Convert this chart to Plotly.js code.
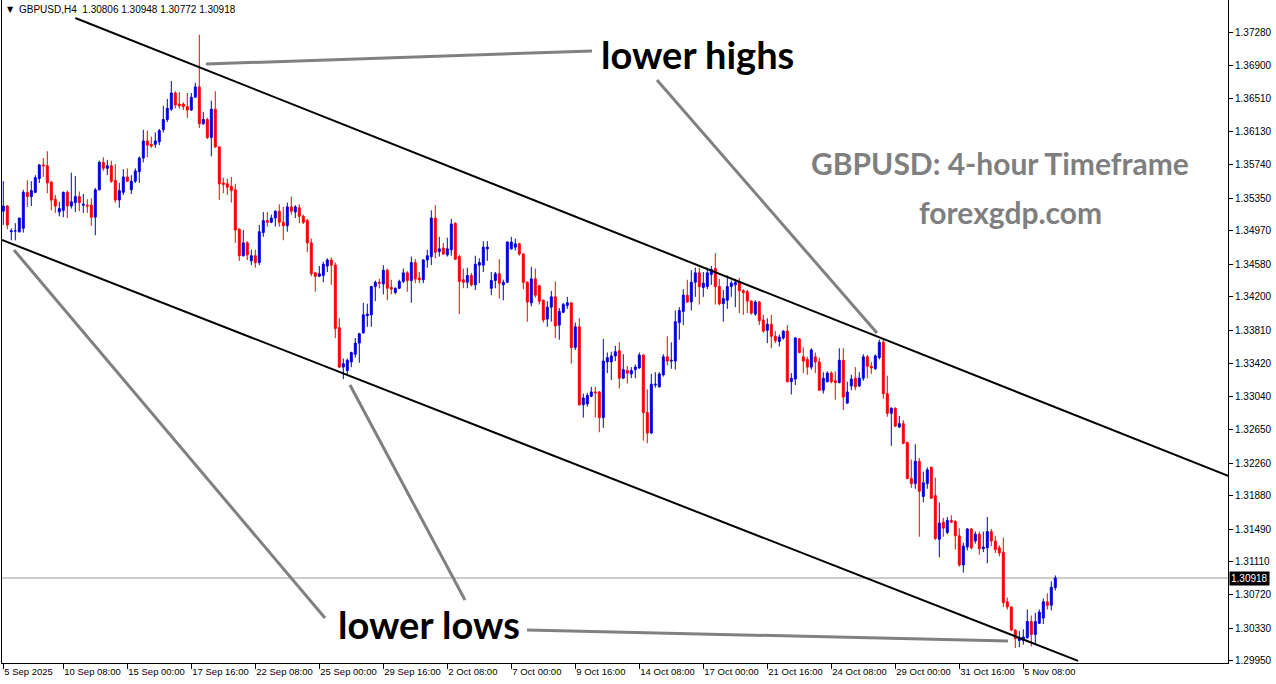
<!DOCTYPE html>
<html>
<head>
<meta charset="utf-8">
<script src="https://cdn.plot.ly/plotly-3.0.1.min.js"></script>
<style>
html,body{margin:0;padding:0;background:#fff;}
#chart{width:1276px;height:684px;}
</style>
</head>
<body>
<div id="chart"></div>
<script>
// GBPUSD H4 candles, index 0 = first visible bar
const OPEN = [
1.3520,1.3526,1.3496,1.3497,1.3496,1.3500,1.3542,1.3537,1.3542,1.3558,
1.3574,1.3573,1.3554,1.3534,1.3519,1.3521,1.3542,1.3526,1.3530,1.3537,
1.3527,1.3527,1.3527,1.3513,1.3545,1.3577,1.3570,1.3573,1.3556,1.3533,
1.3542,1.3560,1.3545,1.3555,1.3566,1.3582,1.3602,1.3598,1.3598,1.3601,
1.3615,1.3627,1.3639,1.3658,1.3645,1.3645,1.3642,1.3638,1.3653,1.3665,
1.3622,1.3627,1.3606,1.3639,1.3595,1.3553,1.3552,1.3549,1.3545,1.3499,
1.3468,1.3483,1.3462,1.3468,1.3460,1.3495,1.3509,1.3507,1.3512,1.3520,
1.3507,1.3503,1.3525,1.3519,1.3524,1.3514,1.3509,1.3483,1.3448,1.3444,
1.3445,1.3456,1.3463,1.3457,1.3384,1.3338,1.3334,1.3344,1.3353,1.3366,
1.3378,1.3398,1.3399,1.3432,1.3437,1.3435,1.3451,1.3431,1.3425,1.3430,
1.3438,1.3448,1.3439,1.3460,1.3442,1.3440,1.3463,1.3467,1.3512,1.3473,
1.3477,1.3469,1.3475,1.3506,1.3467,1.3440,1.3437,1.3445,1.3434,1.3457,
1.3457,1.3476,1.3430,1.3439,1.3447,1.3434,1.3437,1.3476,1.3478,1.3482,
1.3470,1.3437,1.3413,1.3441,1.3433,1.3416,1.3394,1.3408,1.3420,1.3387,
1.3402,1.3410,1.3413,1.3361,1.3385,1.3294,1.3295,1.3304,1.3309,1.3309,
1.3279,1.3344,1.3344,1.3351,1.3357,1.3325,1.3334,1.3330,1.3335,1.3337,
1.3352,1.3285,1.3261,1.3317,1.3315,1.3329,1.3350,1.3345,1.3345,1.3390,
1.3403,1.3422,1.3414,1.3437,1.3448,1.3431,1.3432,1.3446,1.3453,1.3432,
1.3412,1.3416,1.3432,1.3434,1.3437,1.3427,1.3426,1.3415,1.3400,1.3414,
1.3393,1.3381,1.3388,1.3374,1.3368,1.3372,1.3380,1.3321,1.3324,1.3371,
1.3350,1.3347,1.3338,1.3350,1.3344,1.3311,1.3321,1.3331,1.3322,1.3320,
1.3346,1.3296,1.3316,1.3325,1.3316,1.3325,1.3350,1.3339,1.3336,1.3349,
1.3367,1.3307,1.3284,1.3290,1.3268,1.3272,1.3250,1.3208,1.3202,1.3228,
1.3187,1.3202,1.3221,1.3188,1.3137,1.3157,1.3145,1.3159,1.3158,1.3141,
1.3107,1.3128,1.3149,1.3135,1.3143,1.3126,1.3127,1.3146,1.3135,1.3127,
1.3122,1.3064,1.3058,1.3031,1.3019,1.3019,1.3022,1.3041,1.3026,1.3039,
1.3045,1.3064,1.3060,1.30806];
const HIGH = [
1.3555,1.3527,1.3500,1.3506,1.3512,1.3545,1.3556,1.3555,1.3562,1.3575,
1.3582,1.3590,1.3555,1.3539,1.3531,1.3543,1.3544,1.3565,1.3561,1.3543,
1.3540,1.3534,1.3535,1.3547,1.3579,1.3583,1.3580,1.3579,1.3575,1.3553,
1.3569,1.3570,1.3562,1.3570,1.3584,1.3615,1.3614,1.3607,1.3612,1.3616,
1.3643,1.3651,1.3672,1.3660,1.3659,1.3647,1.3658,1.3658,1.3670,1.3726,
1.3636,1.3629,1.3649,1.3660,1.3596,1.3559,1.3558,1.3560,1.3552,1.3500,
1.3498,1.3485,1.3475,1.3475,1.3504,1.3519,1.3519,1.3516,1.3521,1.3528,
1.3525,1.3530,1.3537,1.3527,1.3528,1.3516,1.3511,1.3488,1.3449,1.3456,
1.3461,1.3465,1.3466,1.3460,1.3395,1.3348,1.3348,1.3356,1.3372,1.3378,
1.3413,1.3412,1.3433,1.3439,1.3441,1.3457,1.3453,1.3440,1.3431,1.3440,
1.3453,1.3450,1.3467,1.3464,1.3449,1.3464,1.3475,1.3521,1.3527,1.3490,
1.3483,1.3489,1.3511,1.3507,1.3469,1.3453,1.3454,1.3448,1.3468,1.3465,
1.3485,1.3485,1.3449,1.3449,1.3464,1.3440,1.3485,1.3490,1.3488,1.3483,
1.3471,1.3438,1.3455,1.3453,1.3434,1.3417,1.3415,1.3427,1.3438,1.3407,
1.3413,1.3420,1.3414,1.3390,1.3395,1.3307,1.3308,1.3315,1.3315,1.3310,
1.3371,1.3355,1.3356,1.3363,1.3367,1.3353,1.3339,1.3338,1.3341,1.3355,
1.3353,1.3312,1.3330,1.3332,1.3332,1.3353,1.3374,1.3367,1.3404,1.3408,
1.3429,1.3440,1.3451,1.3454,1.3454,1.3449,1.3454,1.3456,1.3471,1.3441,
1.3428,1.3445,1.3439,1.3441,1.3442,1.3429,1.3428,1.3416,1.3416,1.3415,
1.3399,1.3395,1.3399,1.3380,1.3376,1.3381,1.3387,1.3331,1.3373,1.3372,
1.3361,1.3350,1.3360,1.3355,1.3349,1.3332,1.3333,1.3333,1.3333,1.3360,
1.3360,1.3321,1.3329,1.3338,1.3332,1.3353,1.3352,1.3344,1.3353,1.3370,
1.3371,1.3328,1.3291,1.3291,1.3281,1.3276,1.3251,1.3230,1.3248,1.3232,
1.3216,1.3221,1.3222,1.3209,1.3180,1.3162,1.3163,1.3165,1.3159,1.3150,
1.3133,1.3150,1.3150,1.3146,1.3146,1.3146,1.3163,1.3149,1.3141,1.3130,
1.3139,1.3069,1.3059,1.3032,1.3030,1.3032,1.3055,1.3048,1.3051,1.3055,
1.3068,1.3074,1.3088,1.30948];
const LOW = [
1.3504,1.3499,1.3486,1.3486,1.3495,1.3495,1.3525,1.3526,1.3541,1.3553,
1.3560,1.3541,1.3521,1.3518,1.3514,1.3513,1.3512,1.3523,1.3519,1.3520,
1.3518,1.3518,1.3503,1.3492,1.3544,1.3567,1.3562,1.3553,1.3530,1.3524,
1.3539,1.3554,1.3540,1.3553,1.3553,1.3577,1.3583,1.3594,1.3594,1.3597,
1.3612,1.3624,1.3637,1.3640,1.3640,1.3638,1.3629,1.3637,1.3652,1.3617,
1.3621,1.3604,1.3584,1.3594,1.3533,1.3541,1.3539,1.3530,1.3483,1.3462,
1.3467,1.3463,1.3457,1.3454,1.3457,1.3490,1.3502,1.3506,1.3502,1.3502,
1.3486,1.3496,1.3516,1.3512,1.3506,1.3505,1.3472,1.3444,1.3426,1.3443,
1.3437,1.3449,1.3434,1.3372,1.3337,1.3324,1.3329,1.3338,1.3349,1.3343,
1.3377,1.3385,1.3385,1.3415,1.3430,1.3423,1.3416,1.3423,1.3423,1.3429,
1.3436,1.3426,1.3413,1.3436,1.3436,1.3436,1.3454,1.3457,1.3465,1.3467,
1.3469,1.3467,1.3468,1.3463,1.3400,1.3430,1.3430,1.3432,1.3428,1.3436,
1.3449,1.3462,1.3422,1.3430,1.3418,1.3416,1.3436,1.3475,1.3474,1.3468,
1.3429,1.3391,1.3409,1.3419,1.3411,1.3390,1.3385,1.3391,1.3372,1.3370,
1.3401,1.3406,1.3342,1.3358,1.3293,1.3279,1.3292,1.3303,1.3279,1.3262,
1.3267,1.3331,1.3323,1.3345,1.3313,1.3324,1.3319,1.3325,1.3325,1.3336,
1.3252,1.3249,1.3260,1.3314,1.3314,1.3327,1.3340,1.3336,1.3335,1.3370,
1.3387,1.3413,1.3404,1.3420,1.3411,1.3420,1.3429,1.3434,1.3411,1.3410,
1.3391,1.3406,1.3420,1.3408,1.3401,1.3399,1.3401,1.3399,1.3398,1.3387,
1.3378,1.3366,1.3360,1.3366,1.3362,1.3370,1.3320,1.3306,1.3317,1.3354,
1.3331,1.3329,1.3335,1.3331,1.3310,1.3307,1.3320,1.3319,1.3300,1.3319,
1.3288,1.3295,1.3311,1.3311,1.3315,1.3322,1.3325,1.3330,1.3335,1.3347,
1.3301,1.3280,1.3246,1.3268,1.3267,1.3248,1.3207,1.3197,1.3196,1.3140,
1.3180,1.3196,1.3184,1.3136,1.3116,1.3140,1.3143,1.3156,1.3125,1.3105,
1.3098,1.3124,1.3125,1.3132,1.3119,1.3122,1.3109,1.3129,1.3121,1.3117,
1.3058,1.3055,1.3030,1.3010,1.3011,1.3014,1.3021,1.3012,1.3014,1.3038,
1.3038,1.3055,1.3054,1.30772];
const CLOSE = [
1.3526,1.3504,1.3497,1.3497,1.3512,1.3542,1.3537,1.3544,1.3559,1.3574,
1.3573,1.3553,1.3533,1.3526,1.3523,1.3542,1.3526,1.3531,1.3537,1.3530,
1.3528,1.3526,1.3513,1.3545,1.3577,1.3570,1.3573,1.3555,1.3533,1.3544,
1.3560,1.3555,1.3555,1.3567,1.3582,1.3602,1.3597,1.3596,1.3602,1.3614,
1.3627,1.3640,1.3658,1.3644,1.3643,1.3642,1.3638,1.3653,1.3665,1.3622,
1.3627,1.3606,1.3639,1.3595,1.3552,1.3551,1.3548,1.3544,1.3498,1.3468,
1.3483,1.3469,1.3468,1.3460,1.3496,1.3509,1.3507,1.3512,1.3520,1.3507,
1.3503,1.3525,1.3520,1.3525,1.3514,1.3507,1.3483,1.3447,1.3444,1.3447,
1.3458,1.3463,1.3457,1.3383,1.3338,1.3342,1.3346,1.3355,1.3366,1.3377,
1.3399,1.3400,1.3432,1.3437,1.3436,1.3451,1.3430,1.3429,1.3430,1.3438,
1.3448,1.3439,1.3460,1.3441,1.3440,1.3463,1.3468,1.3512,1.3472,1.3476,
1.3470,1.3476,1.3505,1.3464,1.3438,1.3437,1.3445,1.3434,1.3458,1.3460,
1.3478,1.3478,1.3439,1.3447,1.3436,1.3437,1.3484,1.3484,1.3482,1.3470,
1.3437,1.3414,1.3441,1.3422,1.3415,1.3393,1.3408,1.3420,1.3386,1.3403,
1.3411,1.3413,1.3361,1.3385,1.3294,1.3302,1.3305,1.3309,1.3308,1.3279,
1.3345,1.3349,1.3351,1.3356,1.3325,1.3335,1.3331,1.3334,1.3338,1.3352,
1.3285,1.3261,1.3318,1.3318,1.3330,1.3350,1.3345,1.3346,1.3391,1.3404,
1.3422,1.3414,1.3437,1.3448,1.3432,1.3436,1.3448,1.3452,1.3432,1.3412,
1.3418,1.3432,1.3436,1.3437,1.3427,1.3425,1.3415,1.3401,1.3414,1.3392,
1.3380,1.3388,1.3374,1.3369,1.3373,1.3380,1.3321,1.3325,1.3372,1.3355,
1.3345,1.3338,1.3358,1.3344,1.3311,1.3325,1.3331,1.3321,1.3320,1.3346,
1.3303,1.3309,1.3324,1.3315,1.3325,1.3350,1.3339,1.3337,1.3351,1.3367,
1.3307,1.3284,1.3290,1.3269,1.3272,1.3249,1.3208,1.3202,1.3228,1.3193,
1.3203,1.3218,1.3185,1.3138,1.3156,1.3150,1.3159,1.3157,1.3141,1.3107,
1.3129,1.3149,1.3127,1.3143,1.3126,1.3128,1.3146,1.3135,1.3125,1.3121,
1.3063,1.3058,1.3031,1.3021,1.3022,1.3023,1.3041,1.3026,1.3041,1.3052,
1.3064,1.3060,1.3081,1.30918];

// time-axis labels (bar index where each label sits)
const TICK_IDX  = [0,15,31,47,63,79,95,111,127,143,159,175,191,207,223,239,255];
const TICK_TEXT = ["5 Sep 2025","10 Sep 08:00","15 Sep 00:00","17 Sep 16:00","22 Sep 08:00",
  "25 Sep 00:00","29 Sep 16:00","2 Oct 08:00","7 Oct 00:00","9 Oct 16:00","14 Oct 08:00",
  "17 Oct 00:00","21 Oct 16:00","24 Oct 08:00","29 Oct 00:00","31 Oct 16:00","5 Nov 08:00"];
// price-scale labels
const PRICE_TICKS = [1.37280,1.36900,1.36510,1.36130,1.35740,1.35350,1.34970,1.34580,1.34200,1.33810,
  1.33420,1.33040,1.32650,1.32260,1.31880,1.31490,1.31110,1.30720,1.30330,1.29950];
const LAST_PRICE = 1.30918;
// channel lines: [x0, y0, x1, y1] in bar index / price
const UPPER_CHANNEL = [18, 1.37455, 306.2, 1.32110];
const LOWER_CHANNEL = [-0.33, 1.34864, 268.7, 1.29950];

const idx = OPEN.map((_, i) => i);

// pixel -> paper helpers (plot area: x 2..1228, y 0..663)
const ax = X => (X - 2) / 1226;
const ay = Y => (663 - Y) / 663;

const BLUE = '#0000dd', RED = '#ff0000', GRAY = '#808080';

const trace = {
  type: 'candlestick',
  x: idx, open: OPEN, high: HIGH, low: LOW, close: CLOSE,
  increasing: {line: {color: BLUE, width: 1}, fillcolor: BLUE},
  decreasing: {line: {color: RED, width: 1}, fillcolor: RED},
  whiskerwidth: 0,
  hoverinfo: 'skip',
  showlegend: false
};

function gline(x0, y0, x1, y1) {
  return {type: 'line', xref: 'paper', yref: 'paper',
    x0: ax(x0), y0: ay(y0), x1: ax(x1), y1: ay(y1),
    line: {color: GRAY, width: 3}};
}

const shapes = [
  {type: 'line', xref: 'x', yref: 'y', x0: UPPER_CHANNEL[0], y0: UPPER_CHANNEL[1],
    x1: UPPER_CHANNEL[2], y1: UPPER_CHANNEL[3], line: {color: '#000', width: 2}},
  {type: 'line', xref: 'x', yref: 'y', x0: LOWER_CHANNEL[0], y0: LOWER_CHANNEL[1],
    x1: LOWER_CHANNEL[2], y1: LOWER_CHANNEL[3], line: {color: '#000', width: 2}},
  {type: 'line', xref: 'paper', yref: 'y', x0: 0, x1: 1, y0: LAST_PRICE, y1: LAST_PRICE,
    line: {color: '#999999', width: 1}, layer: 'below'},
  gline(206, 64, 592, 51),
  gline(657, 80, 877, 333),
  gline(14, 250, 325, 618),
  gline(350, 385, 465, 600),
  gline(527, 630, 1008, 641)
];

const bigFont = {family: 'Lato, "Liberation Sans", sans-serif', size: 38, color: '#000', weight: 'bold'};
const grayFont = {family: 'Lato, "Liberation Sans", sans-serif', size: 30, color: '#7f7f7f', weight: 'bold'};

const annotations = [
  {xref: 'paper', yref: 'paper', x: ax(697), y: ay(54), text: '<b>lower highs</b>', showarrow: false,
    xanchor: 'center', yanchor: 'middle', font: bigFont},
  {xref: 'paper', yref: 'paper', x: ax(429), y: ay(624), text: '<b>lower lows</b>', showarrow: false,
    xanchor: 'center', yanchor: 'middle', font: bigFont},
  {xref: 'paper', yref: 'paper', x: ax(1000), y: ay(163), text: '<b>GBPUSD: 4-hour Timeframe</b>', showarrow: false,
    xanchor: 'center', yanchor: 'middle', font: grayFont},
  {xref: 'paper', yref: 'paper', x: ax(1010), y: ay(212), text: '<b>forexgdp.com</b>', showarrow: false,
    xanchor: 'center', yanchor: 'middle', font: grayFont},
  {xref: 'paper', yref: 'paper', x: ax(5), y: ay(10), text: '▼', showarrow: false,
    xanchor: 'left', yanchor: 'middle', font: {family: '"DejaVu Sans", sans-serif', size: 8, color: '#000'}},
  {xref: 'paper', yref: 'paper', x: ax(17), y: ay(10),
    text: 'GBPUSD,H4&nbsp;&nbsp;1.30806 1.30948 1.30772 1.30918', showarrow: false,
    xanchor: 'left', yanchor: 'middle', font: {family: '"Liberation Sans", Arial, sans-serif', size: 10, color: '#000'}},
  {xref: 'paper', yref: 'y', x: 1, y: LAST_PRICE, xshift: 1, text: LAST_PRICE.toFixed(5), showarrow: false,
    xanchor: 'left', yanchor: 'middle', bgcolor: '#000', borderpad: 1,
    font: {family: '"Liberation Sans", Arial, sans-serif', size: 10, color: '#fff'}}
];

const layout = {
  width: 1276, height: 684,
  margin: {l: 2, r: 48, t: 0, b: 21, pad: 0},
  paper_bgcolor: '#fff', plot_bgcolor: '#fff',
  showlegend: false,
  xaxis: {
    range: [-0.325, 306.175], rangeslider: {visible: false},
    tickmode: 'array', tickvals: TICK_IDX, ticktext: TICK_TEXT,
    tickangle: 0,
    ticks: 'outside', ticklen: 5, tickcolor: '#000', tickwidth: 1,
    ticklabelposition: 'outside right',
    showline: true, linecolor: '#000', linewidth: 1,
    showgrid: false, zeroline: false, fixedrange: true,
    tickfont: {family: '"Liberation Sans", Arial, sans-serif', size: 9.5, color: '#000'}
  },
  yaxis: {
    side: 'right', range: [1.29926, 1.37665],
    tickmode: 'array', tickvals: PRICE_TICKS, tickformat: '.5f',
    ticks: 'outside', ticklen: 4, tickcolor: '#000',
    showline: true, mirror: true, linecolor: '#000', linewidth: 1,
    showgrid: false, zeroline: false, fixedrange: true,
    tickfont: {family: '"Liberation Sans", Arial, sans-serif', size: 10, color: '#000'}
  },
  shapes: shapes,
  annotations: annotations
};

Plotly.newPlot('chart', [trace], layout, {staticPlot: true, displayModeBar: false});
</script>
</body>
</html>
